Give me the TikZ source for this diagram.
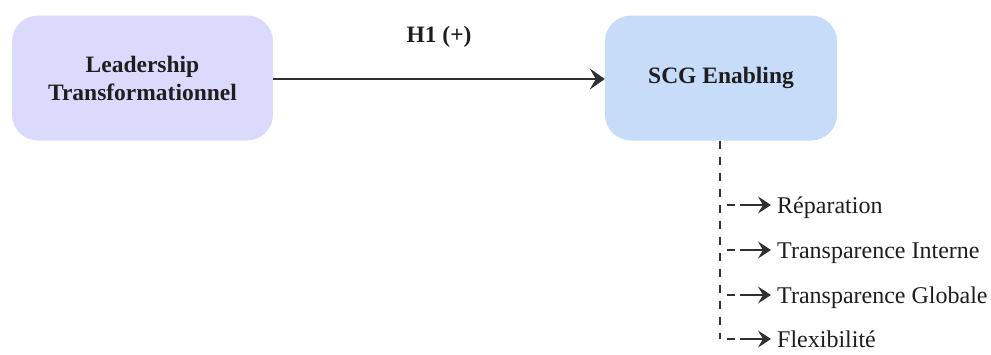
\documentclass[tikz,border=0pt]{standalone}
\usepackage{fontspec}
\setmainfont{Liberation Serif}
\usetikzlibrary{arrows.meta}
\definecolor{leadfill}{HTML}{DCDAFC}
\definecolor{scgfill}{HTML}{C6DCF9}
\definecolor{ink}{HTML}{1E1E1E}
\definecolor{linegray}{HTML}{303030}
\tikzset{
  box/.style={draw=none, rounded corners=26pt, minimum height=125pt, align=center,
    font=\fontsize{23.5}{28}\selectfont\bfseries, text=ink},
  mainarrow/.style={draw=linegray, line width=2.8pt,
    -{Stealth[length=15pt,width=21pt,inset=6pt]}},
  spine/.style={draw=linegray, line width=2.2pt, dash pattern=on 8pt off 8pt},
  branch/.style={draw=linegray, line width=2.4pt, dash pattern=on 0pt off 7pt on 8pt off 5pt on 40pt,
    -{Stealth[length=13pt,width=17pt,inset=5pt]}},
  item/.style={anchor=base west, inner xsep=0pt, inner ysep=0pt,
    font=\fontsize{24}{28}\selectfont, text=ink},
}
\begin{document}
\begin{tikzpicture}[x=1pt,y=-1pt]
\useasboundingbox (0,0) rectangle (991,354);

\node[box, fill=leadfill, minimum width=261pt] (lead) at (142.5,78) {Leadership\\Transformationnel};
\node[box, fill=scgfill, minimum width=232pt] (scg) at (721,78) {SCG Enabling};

\draw[mainarrow] (lead.east |- 0,79) -- (scg.west |- 0,79);
\node[anchor=base, inner sep=0pt, font=\fontsize{23.5}{28}\selectfont\bfseries, text=ink] (h1) at (439,42) {H1 (+)};

% dimension items
\node[item] (rep) at (777,213) {Réparation};
\node[item] (ti)  at (777,258) {Transparence Interne};
\node[item] (tg)  at (777,303) {Transparence Globale};
\node[item] (fl)  at (777,347) {Flexibilité};

\coordinate (b1) at (720,205);
\coordinate (b2) at (720,250);
\coordinate (b3) at (720,295);
\coordinate (b4) at (720,339);

\draw[spine] (scg.south -| b1) -- (b4);
\draw[branch] (b1) -- ([xshift=-6pt]b1 -| rep.west);
\draw[branch] (b2) -- ([xshift=-6pt]b2 -| ti.west);
\draw[branch] (b3) -- ([xshift=-6pt]b3 -| tg.west);
\draw[branch] (b4) -- ([xshift=-6pt]b4 -| fl.west);
\end{tikzpicture}
\end{document}
